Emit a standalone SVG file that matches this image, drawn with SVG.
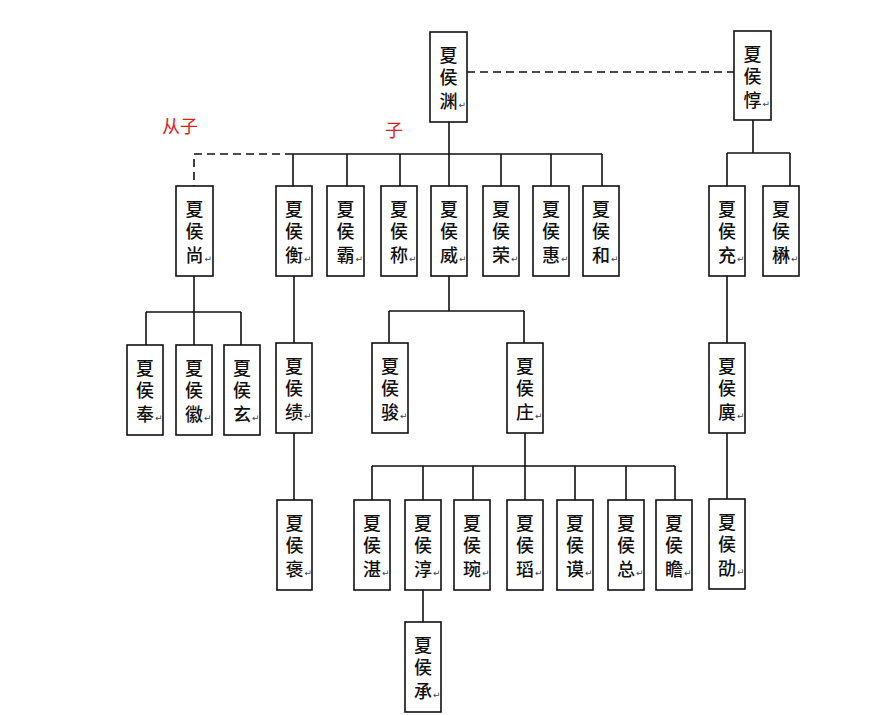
<svg xmlns="http://www.w3.org/2000/svg" width="894" height="715" viewBox="0 0 894 715">
<style>
.box{fill:#fff;stroke:#111;stroke-width:1.6}
.ln{fill:none;stroke:#111;stroke-width:1.6}
.dash{fill:none;stroke:#111;stroke-width:1.6;stroke-dasharray:8 5}
.v{font-family:"Noto Sans CJK SC","Noto Sans",sans-serif;font-size:18px;font-weight:500;fill:#111;writing-mode:vertical-rl}
.t{font-family:"Noto Sans CJK SC","Noto Sans",sans-serif;font-size:18px;font-weight:500;fill:#111;text-anchor:middle}
.r{font-family:"Noto Sans CJK SC","Noto Sans",sans-serif;font-size:18px;fill:#e0201b}
.m{font-family:"DejaVu Sans",sans-serif;font-size:9px;fill:#444}
</style>
<rect width="894" height="715" fill="#fff"/>
<g id="connectors">
<path class="dash" d="M467,72 H734"/>
<path class="ln" d="M449,122 V154 M293,154 H602 M293,154 V186 M347,154 V186 M400,154 V186 M449,154 V186 M501,154 V186 M551,154 V186 M602,154 V186"/>
<path class="dash" d="M293,154 H194 V186"/>
<path class="ln" d="M753,120 V153 M727,153 H790 M727,153 V186 M790,153 V186"/>
<path class="ln" d="M194,276 V312 M146,312 H241 M146,312 V345 M194,312 V345 M241,312 V345"/>
<path class="ln" d="M294,276 V343 M294,433 V500"/>
<path class="ln" d="M449,276 V311 M389,311 H524 M389,311 V343 M524,311 V343"/>
<path class="ln" d="M525,433 V466 M372,466 H675 M372,466 V500 M423,466 V500 M473,466 V500 M525,466 V500 M575,466 V500 M626,466 V500 M675,466 V500"/>
<path class="ln" d="M423,590 V622"/>
<path class="ln" d="M727,276 V343 M727,433 V499"/>
</g>
<g id="labels">
<text class="r" x="162" y="133">从子</text>
<text class="r" x="385" y="137">子</text>
</g>
<g id="n-yuan"><rect class="box" x="430" y="32" width="37" height="90"/><text class="v" x="448.5" y="46">夏</text><text class="v" x="448.5" y="68">侯</text><text class="t" x="448.5" y="108">渊</text><text class="m" x="458.5" y="108">↵</text></g>
<g id="n-dun"><rect class="box" x="734" y="31" width="37" height="89"/><text class="v" x="752.5" y="45">夏</text><text class="v" x="752.5" y="67">侯</text><text class="t" x="752.5" y="107">惇</text><text class="m" x="762.5" y="107">↵</text></g>
<g id="n-shang"><rect class="box" x="176" y="186" width="37" height="90"/><text class="v" x="194.5" y="200">夏</text><text class="v" x="194.5" y="222">侯</text><text class="t" x="194.5" y="262">尚</text><text class="m" x="204.5" y="262">↵</text></g>
<g id="n-heng"><rect class="box" x="276" y="186" width="36" height="90"/><text class="v" x="294" y="200">夏</text><text class="v" x="294" y="222">侯</text><text class="t" x="294" y="262">衡</text><text class="m" x="304" y="262">↵</text></g>
<g id="n-ba"><rect class="box" x="327" y="186" width="37" height="90"/><text class="v" x="345.5" y="200">夏</text><text class="v" x="345.5" y="222">侯</text><text class="t" x="345.5" y="262">霸</text><text class="m" x="355.5" y="262">↵</text></g>
<g id="n-cheng"><rect class="box" x="381" y="186" width="36" height="90"/><text class="v" x="399" y="200">夏</text><text class="v" x="399" y="222">侯</text><text class="t" x="399" y="262">称</text><text class="m" x="409" y="262">↵</text></g>
<g id="n-wei"><rect class="box" x="431" y="186" width="36" height="90"/><text class="v" x="449" y="200">夏</text><text class="v" x="449" y="222">侯</text><text class="t" x="449" y="262">威</text><text class="m" x="459" y="262">↵</text></g>
<g id="n-rong"><rect class="box" x="483" y="186" width="36" height="90"/><text class="v" x="501" y="200">夏</text><text class="v" x="501" y="222">侯</text><text class="t" x="501" y="262">荣</text><text class="m" x="511" y="262">↵</text></g>
<g id="n-hui"><rect class="box" x="533" y="186" width="36" height="90"/><text class="v" x="551" y="200">夏</text><text class="v" x="551" y="222">侯</text><text class="t" x="551" y="262">惠</text><text class="m" x="561" y="262">↵</text></g>
<g id="n-he"><rect class="box" x="583" y="186" width="36" height="90"/><text class="v" x="601" y="200">夏</text><text class="v" x="601" y="222">侯</text><text class="t" x="601" y="262">和</text><text class="m" x="611" y="262">↵</text></g>
<g id="n-chong"><rect class="box" x="709" y="186" width="36" height="90"/><text class="v" x="727" y="200">夏</text><text class="v" x="727" y="222">侯</text><text class="t" x="727" y="262">充</text><text class="m" x="737" y="262">↵</text></g>
<g id="n-mao"><rect class="box" x="763" y="186" width="36" height="90"/><text class="v" x="781" y="200">夏</text><text class="v" x="781" y="222">侯</text><text class="t" x="781" y="262">楙</text><text class="m" x="791" y="262">↵</text></g>
<g id="n-feng"><rect class="box" x="127" y="345" width="36" height="90"/><text class="v" x="145" y="359">夏</text><text class="v" x="145" y="381">侯</text><text class="t" x="145" y="421">奉</text><text class="m" x="155" y="421">↵</text></g>
<g id="n-hui2"><rect class="box" x="176" y="345" width="36" height="90"/><text class="v" x="194" y="359">夏</text><text class="v" x="194" y="381">侯</text><text class="t" x="194" y="421">徽</text><text class="m" x="204" y="421">↵</text></g>
<g id="n-xuan"><rect class="box" x="224" y="345" width="36" height="90"/><text class="v" x="242" y="359">夏</text><text class="v" x="242" y="381">侯</text><text class="t" x="242" y="421">玄</text><text class="m" x="252" y="421">↵</text></g>
<g id="n-ji"><rect class="box" x="276" y="343" width="36" height="90"/><text class="v" x="294" y="357">夏</text><text class="v" x="294" y="379">侯</text><text class="t" x="294" y="419">绩</text><text class="m" x="304" y="419">↵</text></g>
<g id="n-jun"><rect class="box" x="372" y="343" width="36" height="90"/><text class="v" x="390" y="357">夏</text><text class="v" x="390" y="379">侯</text><text class="t" x="390" y="419">骏</text><text class="m" x="400" y="419">↵</text></g>
<g id="n-zhuang"><rect class="box" x="507" y="343" width="36" height="90"/><text class="v" x="525" y="357">夏</text><text class="v" x="525" y="379">侯</text><text class="t" x="525" y="419">庄</text><text class="m" x="535" y="419">↵</text></g>
<g id="n-yi"><rect class="box" x="709" y="343" width="36" height="90"/><text class="v" x="727" y="357">夏</text><text class="v" x="727" y="379">侯</text><text class="t" x="727" y="419">廙</text><text class="m" x="737" y="419">↵</text></g>
<g id="n-bao"><rect class="box" x="277" y="500" width="35" height="90"/><text class="v" x="294.5" y="514">夏</text><text class="v" x="294.5" y="536">侯</text><text class="t" x="294.5" y="576">褒</text><text class="m" x="304.5" y="576">↵</text></g>
<g id="n-zhan"><rect class="box" x="354" y="500" width="36" height="90"/><text class="v" x="372" y="514">夏</text><text class="v" x="372" y="536">侯</text><text class="t" x="372" y="576">湛</text><text class="m" x="382" y="576">↵</text></g>
<g id="n-chun"><rect class="box" x="405" y="500" width="36" height="90"/><text class="v" x="423" y="514">夏</text><text class="v" x="423" y="536">侯</text><text class="t" x="423" y="576">淳</text><text class="m" x="433" y="576">↵</text></g>
<g id="n-wan"><rect class="box" x="454" y="500" width="36" height="90"/><text class="v" x="472" y="514">夏</text><text class="v" x="472" y="536">侯</text><text class="t" x="472" y="576">琬</text><text class="m" x="482" y="576">↵</text></g>
<g id="n-tao"><rect class="box" x="507" y="500" width="36" height="90"/><text class="v" x="525" y="514">夏</text><text class="v" x="525" y="536">侯</text><text class="t" x="525" y="576">瑫</text><text class="m" x="535" y="576">↵</text></g>
<g id="n-mo"><rect class="box" x="557" y="500" width="36" height="90"/><text class="v" x="575" y="514">夏</text><text class="v" x="575" y="536">侯</text><text class="t" x="575" y="576">谟</text><text class="m" x="585" y="576">↵</text></g>
<g id="n-zong"><rect class="box" x="608" y="500" width="36" height="90"/><text class="v" x="626" y="514">夏</text><text class="v" x="626" y="536">侯</text><text class="t" x="626" y="576">总</text><text class="m" x="636" y="576">↵</text></g>
<g id="n-zhan2"><rect class="box" x="656" y="500" width="36" height="90"/><text class="v" x="674" y="514">夏</text><text class="v" x="674" y="536">侯</text><text class="t" x="674" y="576">瞻</text><text class="m" x="684" y="576">↵</text></g>
<g id="n-shao"><rect class="box" x="709" y="499" width="36" height="90"/><text class="v" x="727" y="513">夏</text><text class="v" x="727" y="535">侯</text><text class="t" x="727" y="575">劭</text><text class="m" x="737" y="575">↵</text></g>
<g id="n-cheng2"><rect class="box" x="405" y="622" width="36" height="90"/><text class="v" x="423" y="636">夏</text><text class="v" x="423" y="658">侯</text><text class="t" x="423" y="698">承</text><text class="m" x="433" y="698">↵</text></g>
</svg>
